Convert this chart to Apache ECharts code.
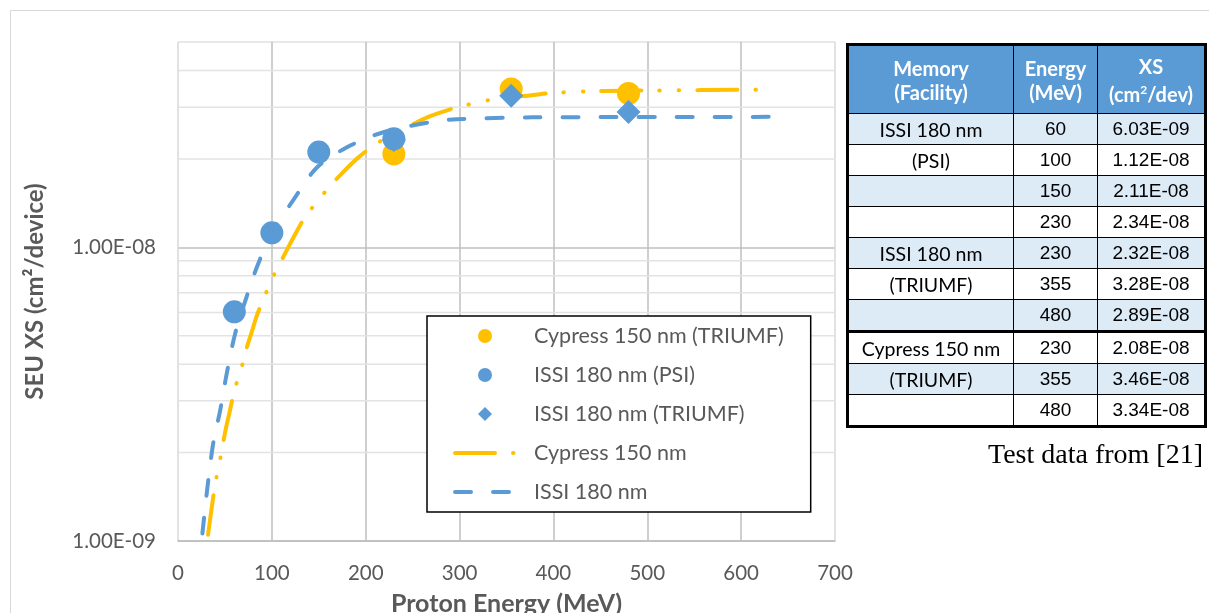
<!DOCTYPE html>
<html>
<head>
<meta charset="utf-8">
<script src="https://cdn.jsdelivr.net/npm/echarts@6/dist/echarts.min.js"></script>
<style>
  body { margin: 0; background: #fff; }
  #frame { position: absolute; left: 10px; top: 10px; width: 1199px; height: 603px;
           border-left: 1px solid #d9d9d9; border-top: 1px solid #d9d9d9; }
  #chart { position: absolute; left: 0; top: 0; width: 1209px; height: 613px; }
  #tbl { position: absolute; left: 846px; top: 43px; border-collapse: collapse;
         border: 3px solid #000; color: #000; }
  #tbl td, #tbl th { border: 1px solid #000; text-align: center; padding: 0; }
  #tbl th { background: #5b9bd5; color: #fff; font-family: Lato, sans-serif; font-weight: bold;
            font-size: 20px; height: 67px; line-height: 24px; }
  #tbl td { height: 30px; }
  #tbl td.mem { font-family: Lato, sans-serif; font-size: 19.5px; }
  #tbl td.num { font-family: "Liberation Sans", Arial, sans-serif; font-size: 19px; }
  #tbl tr.alt td { background: #ddebf7; }
  #tbl tr.sep td { border-top: 3px solid #000; }
  #note { position: absolute; right: 6px; top: 438px; font-family: "Liberation Serif", serif;
          font-size: 28px; color: #000; }
</style>
</head>
<body>
<div id="frame"></div>
<div id="chart"></div>
<table id="tbl"></table>
<div id="note">Test data from [21]</div>
<script>
// measured points
const cypressE = [230, 355, 480]
const cypressXS = [2.08e-8, 3.46e-8, 3.34e-8]
const issiPsiE = [60, 100, 150, 230]
const issiPsiXS = [6.03e-9, 1.12e-8, 2.11e-8, 2.34e-8]
const issiTriumfE = [230, 355, 480]
const issiTriumfXS = [2.32e-8, 3.28e-8, 2.89e-8]

// fit curves
const cypressFitE = [32, 37.5, 41, 46, 50, 55, 61, 66, 71.5, 78.5, 85, 101, 112, 123, 135, 160, 175, 192, 212, 236, 254, 268, 290, 311, 343, 375, 398, 442, 510, 622]
const cypressFitXS = [1.05e-9, 1.41e-9, 1.65e-9, 1.98e-9, 2.33e-9, 2.75e-9, 3.34e-9, 3.7e-9, 4.36e-9, 5.14e-9, 5.97e-9, 7.9e-9, 9.25e-9, 1.08e-8, 1.26e-8, 1.59e-8, 1.79e-8, 2.02e-8, 2.26e-8, 2.5e-8, 2.66e-8, 2.79e-8, 2.95e-8, 3.07e-8, 3.22e-8, 3.29e-8, 3.35e-8, 3.40e-8, 3.42e-8, 3.44e-8]
const issiFitE = [26, 31, 37.5, 45, 52, 61, 73, 84, 100, 123, 148, 180, 218, 272, 297, 378, 631]
const issiFitXS = [1.06e-9, 1.49e-9, 2.15e-9, 2.79e-9, 3.73e-9, 5.1e-9, 6.76e-9, 8.55e-9, 1.12e-8, 1.45e-8, 1.87e-8, 2.19e-8, 2.46e-8, 2.68e-8, 2.73e-8, 2.77e-8, 2.78e-8]

// minor log grid values
const minorGrid = [2e-9, 3e-9, 4e-9, 5e-9, 6e-9, 7e-9, 8e-9, 9e-9, 2e-8, 3e-8, 4e-8]

// table
const tableHead = ['Memory<br>(Facility)', 'Energy<br>(MeV)', 'XS<br>(cm<sup style="font-size:12px">2</sup>/dev)']
const tableMemory = ['ISSI 180 nm', '(PSI)', '', '', 'ISSI 180 nm', '(TRIUMF)', '', 'Cypress 150 nm', '(TRIUMF)', '']

const blue = '#5b9bd5'
const orange = '#ffc000'
const font = 'Lato, sans-serif'

const fmtSci = (v) => {
  const s = v.toExponential(2).toUpperCase()
  return s.replace(/E([+-])(\d)$/, 'E$10$2')
}
const pairs = (xs, ys) => xs.map((x, i) => [x, ys[i]])

// build table
const rows = []
issiPsiE.forEach((e, i) => rows.push([e, issiPsiXS[i]]))
issiTriumfE.forEach((e, i) => rows.push([e, issiTriumfXS[i]]))
cypressE.forEach((e, i) => rows.push([e, cypressXS[i]]))
let html = '<tr>' + tableHead.map((h, i) => '<th style="width:' + [164, 83, 106][i] + 'px">' + h + '</th>').join('') + '</tr>'
rows.forEach((r, i) => {
  const cls = [(i % 2 === 0 ? 'alt' : ''), (i === 7 ? 'sep' : '')].join(' ')
  html += '<tr class="' + cls + '"><td class="mem">' + tableMemory[i] + '</td><td class="num">' + r[0] +
    '</td><td class="num">' + fmtSci(r[1]) + '</td></tr>'
})
document.getElementById('tbl').innerHTML = html

const hideSymbol = { color: 'rgba(0,0,0,0)', borderWidth: 0, opacity: 0 }

const chart = echarts.init(document.getElementById('chart'))
const option = {
  animation: false,
  grid: { left: 178, right: 374, top: 42, bottom: 72, outerBoundsMode: 'none', containLabel: false },
  legend: {
    orient: 'vertical',
    left: 427,
    top: 316,
    backgroundColor: '#fff',
    borderColor: '#000',
    borderWidth: 1.5,
    borderRadius: 0,
    padding: [9, 27, 9, 26],
    itemWidth: 60,
    itemHeight: 14,
    itemGap: 17,
    symbolKeepAspect: true,
    textStyle: { fontFamily: font, fontSize: 21.5, color: '#595959', padding: [0, 0, 0, 14] },
    data: [
      { name: 'Cypress 150 nm (TRIUMF)' },
      { name: 'ISSI 180 nm (PSI)' },
      { name: 'ISSI 180 nm (TRIUMF)', icon: 'path://M0,-1L1,0L0,1L-1,0Z' },
      { name: 'Cypress 150 nm', itemStyle: hideSymbol, lineStyle: { width: 4 } },
      { name: 'ISSI 180 nm', itemStyle: hideSymbol, lineStyle: { width: 4 } }
    ]
  },
  xAxis: {
    type: 'value',
    min: 0,
    max: 700,
    interval: 100,
    name: 'Proton Energy (MeV)',
    nameLocation: 'middle',
    nameGap: 50,
    nameTextStyle: { fontFamily: font, fontSize: 25, fontWeight: 'bold', color: '#595959' },
    axisLine: { lineStyle: { color: '#bfbfbf', width: 1.5 } },
    axisTick: { show: false },
    axisLabel: { fontFamily: font, fontSize: 20.5, color: '#595959', margin: 22 },
    splitLine: { lineStyle: { color: ['#d9d9d9', '#bfbfbf', '#bfbfbf', '#bfbfbf', '#bfbfbf', '#bfbfbf', '#bfbfbf', '#d9d9d9'], width: 1.5 } }
  },
  yAxis: {
    type: 'log',
    logBase: 10,
    min: 1e-9,
    max: 5e-8,
    name: 'SEU XS (cm²/device)',
    nameLocation: 'middle',
    nameGap: 131,
    nameTextStyle: { fontFamily: font, fontSize: 24, fontWeight: 'bold', color: '#595959' },
    axisLine: { show: false },
    axisTick: { show: false },
    axisLabel: {
      fontFamily: font, fontSize: 20.5, color: '#595959', margin: 22,
      formatter: (v) => {
        const e = Math.log10(v)
        return Math.abs(e - Math.round(e)) < 1e-6 ? fmtSci(v) : ''
      }
    },
    splitLine: { lineStyle: { color: ['#bfbfbf', '#bfbfbf', '#e0e0e0'], width: 1.5 } }
  },
  series: [
    {
      // minor horizontal gridlines of the log axis
      name: 'minor',
      type: 'custom',
      silent: true,
      z: 1,
      data: minorGrid.map((v) => [0, v]),
      renderItem: (params, api) => {
        const v = api.value(1)
        const p1 = api.coord([0, v])
        const p2 = api.coord([700, v])
        return {
          type: 'line',
          shape: { x1: p1[0], y1: p1[1], x2: p2[0], y2: p2[1] },
          style: { stroke: '#e3e3e3', lineWidth: 1.5 }
        }
      }
    },
    {
      name: 'Cypress 150 nm',
      type: 'line',
      data: pairs(cypressFitE, cypressFitXS),
      smooth: 0.3,
      showSymbol: false,
      symbol: 'none',
      z: 2,
      color: orange,
      lineStyle: { color: orange, width: 4, type: [40, 18, 0.5, 19, 0.5, 18], cap: 'round' }
    },
    {
      name: 'ISSI 180 nm',
      type: 'line',
      data: pairs(issiFitE, issiFitXS),
      smooth: 0.3,
      showSymbol: false,
      symbol: 'none',
      z: 2,
      color: blue,
      lineStyle: { color: blue, width: 4, type: [16, 22], cap: 'round' }
    },
    {
      name: 'Cypress 150 nm (TRIUMF)',
      type: 'scatter',
      data: pairs(cypressE, cypressXS),
      symbol: 'circle',
      symbolSize: 23,
      z: 3,
      itemStyle: { color: orange, opacity: 1 }
    },
    {
      name: 'ISSI 180 nm (PSI)',
      type: 'scatter',
      data: pairs(issiPsiE, issiPsiXS),
      symbol: 'circle',
      symbolSize: 23,
      z: 4,
      itemStyle: { color: blue, opacity: 1 }
    },
    {
      name: 'ISSI 180 nm (TRIUMF)',
      type: 'scatter',
      data: pairs(issiTriumfE, issiTriumfXS),
      symbol: 'diamond',
      symbolSize: 24,
      z: 4,
      itemStyle: { color: blue, opacity: 1 }
    }
  ]
}
chart.setOption(option)
</script>
</body>
</html>
